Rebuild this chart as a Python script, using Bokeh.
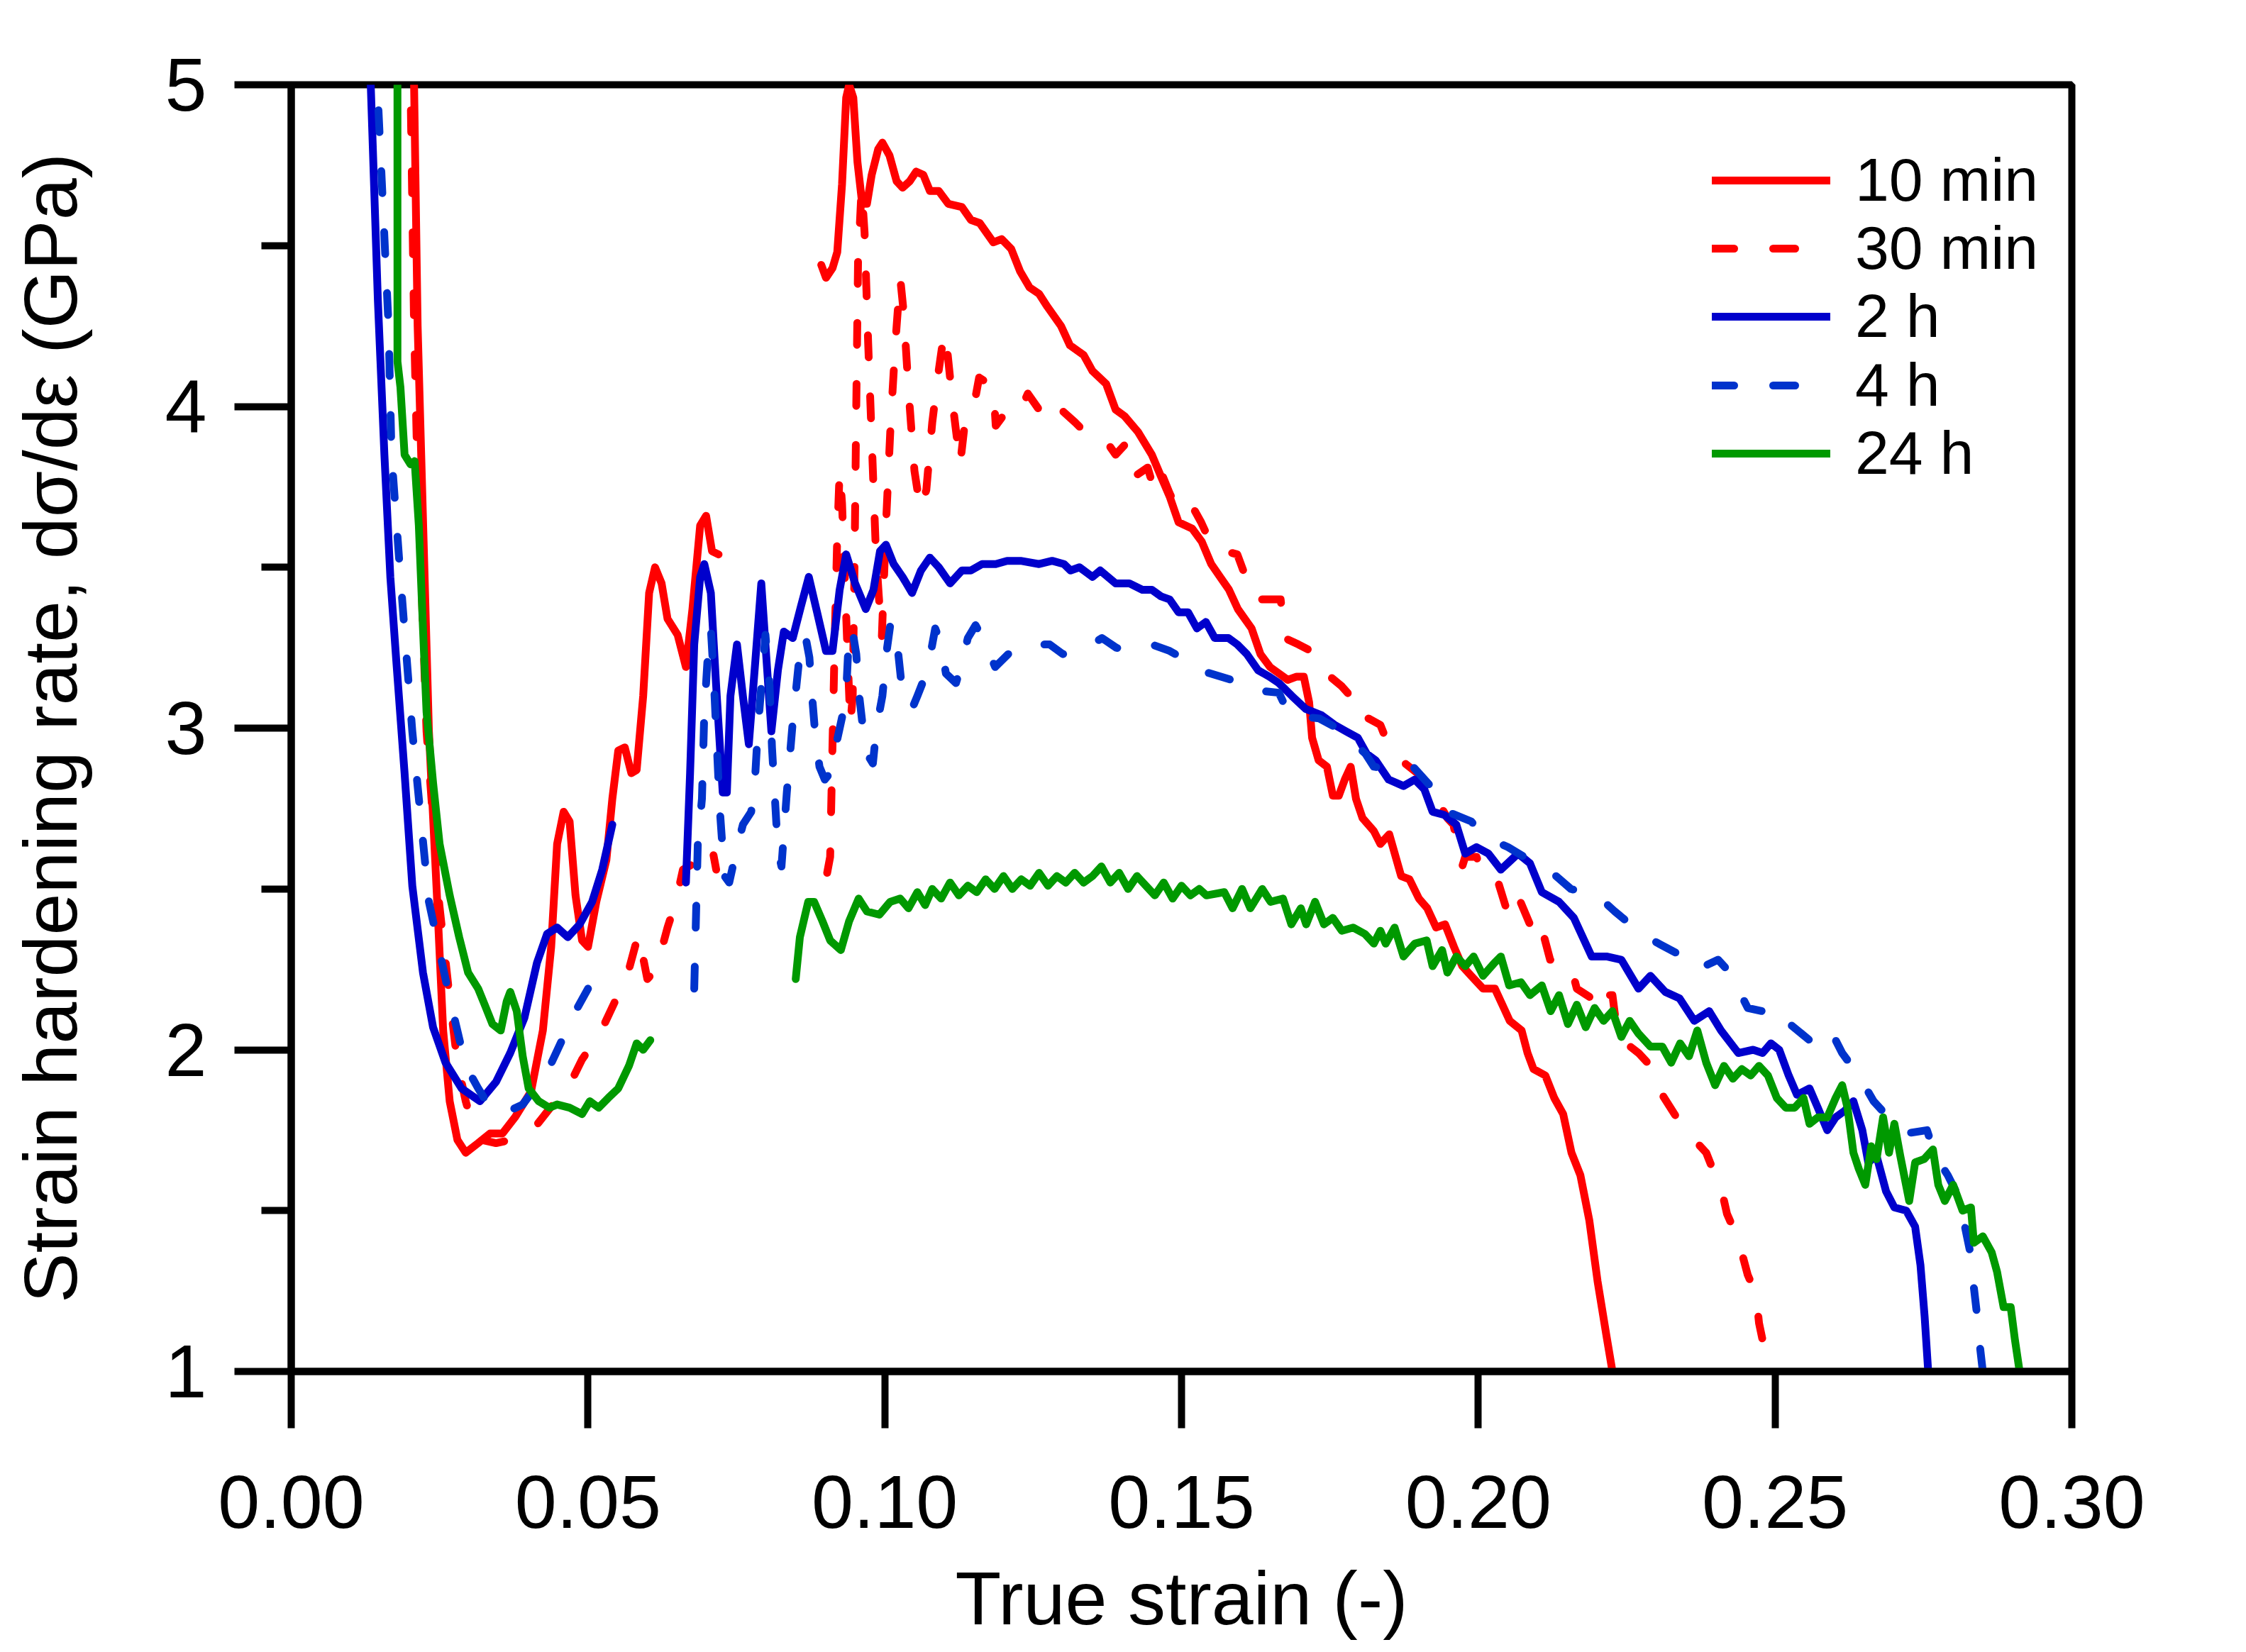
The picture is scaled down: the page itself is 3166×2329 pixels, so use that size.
from bokeh.plotting import figure
from bokeh.models import Range1d, FixedTicker, PrintfTickFormatter, Legend, LegendItem, Label
from bokeh.layouts import column
from bokeh.embed import file_html
from bokeh.resources import INLINE

nan = float("nan")

# ---------------- data (true strain, strain hardening rate GPa) ----------------
min10_x = [0.0205, 0.0207, 0.0213, 0.0219, 0.0232, 0.0246, 0.0256, 0.0267, 0.0280, 0.0294,
           0.0315, 0.0335, 0.0356, 0.0377, 0.0404, 0.0424, 0.0438, 0.0448, 0.0459, 0.0469,
           0.0479, 0.0490, 0.0500, 0.0514, 0.0531, 0.0541, 0.0551, 0.0562, 0.0573, 0.0582,
           0.0593, 0.0603, 0.0613, 0.0624, 0.0634, 0.0651, 0.0665, 0.0676, 0.0689, 0.0699,
           0.0709, 0.0720, nan,
           0.0893, 0.0901, 0.0912, 0.0920, 0.0928, 0.0935, 0.0940, 0.0947, 0.0954, 0.0962,
           0.0970, 0.0978, 0.0989, 0.0996, 0.1008, 0.1020, 0.1030, 0.1042, 0.1053, 0.1065,
           0.1076, 0.1091, 0.1107, 0.1130, 0.1145, 0.1160, 0.1183, 0.1197, 0.1213, 0.1228,
           0.1244, 0.1260, 0.1274, 0.1297, 0.1312, 0.1335, 0.1350, 0.1373, 0.1389, 0.1404,
           0.1427, 0.1450, 0.1466, 0.1480, 0.1495, 0.1518, 0.1534, 0.1550, 0.1565, 0.1580,
           0.1595, 0.1618, 0.1633, 0.1649, 0.1664, 0.1679, 0.1694, 0.1706, 0.1715, 0.1720,
           0.1731, 0.1745, 0.1755, 0.1765, 0.1775, 0.1785, 0.1794, 0.1805, 0.1824, 0.1835,
           0.1850, 0.1870, 0.1884, 0.1900, 0.1914, 0.1929, 0.1944, 0.1959, 0.1973, 0.1988,
           0.2008, 0.2028, 0.2043, 0.2053, 0.2073, 0.2083, 0.2093, 0.2113, 0.2128, 0.2143,
           0.2157, 0.2172, 0.2187, 0.2201, 0.2216, 0.2226, 0.2232]
min10_y = [5.30, 5.00, 4.25, 3.85, 2.99, 2.46, 2.06, 1.84, 1.72, 1.68,
           1.71, 1.74, 1.74, 1.79, 1.87, 2.06, 2.32, 2.64, 2.74, 2.71,
           2.48, 2.34, 2.32, 2.46, 2.59, 2.78, 2.93, 2.94, 2.86, 2.87,
           3.10, 3.42, 3.50, 3.45, 3.34, 3.29, 3.19, 3.37, 3.63, 3.66,
           3.55, 3.54, nan,
           4.44, 4.40, 4.43, 4.48, 4.69, 4.96, 5.00, 4.96, 4.76, 4.63,
           4.63, 4.72, 4.80, 4.82, 4.78, 4.70, 4.68, 4.70, 4.73, 4.72,
           4.67, 4.67, 4.63, 4.62, 4.58, 4.57, 4.51, 4.52, 4.49, 4.42,
           4.37, 4.35, 4.31, 4.25, 4.19, 4.16, 4.11, 4.07, 3.99, 3.97,
           3.92, 3.85, 3.78, 3.72, 3.64, 3.62, 3.58, 3.51, 3.47, 3.43,
           3.37, 3.31, 3.23, 3.19, 3.17, 3.15, 3.16, 3.16, 3.08, 2.97,
           2.90, 2.88, 2.79, 2.79, 2.84, 2.88, 2.78, 2.72, 2.68, 2.64,
           2.67, 2.54, 2.53, 2.47, 2.44, 2.38, 2.39, 2.32, 2.26, 2.23,
           2.19, 2.19, 2.13, 2.09, 2.06, 1.99, 1.94, 1.92, 1.85, 1.80,
           1.68, 1.61, 1.47, 1.28, 1.11, 1.00, 0.90]

min30_x = [0.0199, 0.0201, 0.0207, 0.0212, 0.0228, 0.0249, 0.0267, 0.0280, 0.0294, 0.0305,
           0.0320, 0.0345, 0.0370, 0.0390, 0.0411, 0.0445, 0.0466, 0.0490, 0.0520, 0.0548,
           0.0569, 0.0585, 0.0600, 0.0615, 0.0634, 0.0648, 0.0660, 0.0679, 0.0700, 0.0710,
           0.0716, nan,
           0.0903, 0.0908, 0.0912, 0.0916, 0.0920, 0.0924, 0.0928, 0.0933, 0.0938, 0.0942,
           0.0946, 0.0949, 0.0952, 0.0955, 0.0961, 0.0966, 0.0972, 0.0978, 0.0985, 0.0990,
           0.0995, 0.1002, 0.1010, 0.1018, 0.1026, 0.1032, 0.1040, 0.1050, 0.1060, 0.1070,
           0.1080, 0.1090, 0.1100, 0.1105, 0.1115, 0.1127, 0.1135, 0.1151, 0.1159, 0.1183,
           0.1187, 0.1207, 0.1227, 0.1241, 0.1260, 0.1274, 0.1297, 0.1321, 0.1343, 0.1370,
           0.1389, 0.1404, 0.1419, 0.1443, 0.1457, 0.1469, 0.1480, 0.1495, 0.1518, 0.1533,
           0.1553, 0.1594, 0.1606, 0.1617, 0.1633, 0.1667, 0.1674, 0.1697, 0.1728, 0.1744,
           0.1770, 0.1789, 0.1808, 0.1815, 0.1835, 0.1850, 0.1870, 0.1904, 0.1930, 0.1948,
           0.1958, 0.1973, 0.1978, 0.1997, 0.2008, 0.2022, 0.2032, 0.2047, 0.2062, 0.2087,
           0.2101, 0.2121, 0.2142, 0.2156, 0.2166, 0.2191, 0.2200, 0.2215, 0.2226, 0.2235,
           0.2270, 0.2290, 0.2300, 0.2310, 0.2334, 0.2359, 0.2384, 0.2399, 0.2408, 0.2419,
           0.2438, 0.2454, 0.2468, 0.2473, 0.2481, 0.2486, 0.2490]
min30_y = [5.30, 5.00, 4.25, 3.85, 2.99, 2.46, 2.16, 1.96, 1.84, 1.77,
           1.72, 1.71, 1.72, 1.74, 1.76, 1.84, 1.88, 1.97, 2.05, 2.16,
           2.25, 2.36, 2.22, 2.25, 2.38, 2.46, 2.56, 2.58, 2.57, 2.62,
           2.56, nan,
           2.55, 2.60, 2.95, 3.30, 3.60, 3.80, 3.70, 3.45, 3.20, 3.01,
           3.10, 3.50, 4.00, 4.45, 4.68, 4.54, 4.20, 3.90, 3.55, 3.41,
           3.28, 3.63, 3.95, 4.20, 4.40, 4.29, 4.05, 3.80, 3.68, 3.74,
           3.95, 4.10, 4.23, 4.18, 4.00, 3.82, 3.95, 4.01, 4.09, 4.06,
           3.94, 3.99, 3.98, 4.04, 3.99, 3.95, 3.99, 3.95, 3.91, 3.90,
           3.85, 3.88, 3.78, 3.81, 3.72, 3.78, 3.73, 3.67, 3.69, 3.64,
           3.56, 3.54, 3.48, 3.41, 3.40, 3.40, 3.28, 3.26, 3.23, 3.17,
           3.13, 3.09, 3.09, 3.03, 3.01, 2.94, 2.90, 2.85, 2.78, 2.72,
           2.70, 2.57, 2.60, 2.60, 2.54, 2.53, 2.53, 2.44, 2.50, 2.39,
           2.42, 2.28, 2.28, 2.26, 2.19, 2.16, 2.12, 2.17, 2.17, 2.04,
           1.99, 1.95, 1.89, 1.86, 1.79, 1.73, 1.68, 1.61, 1.58, 1.49,
           1.41, 1.30, 1.24, 1.15, 1.08, 1.00, 0.90]

h2_x = [0.0132, 0.0134, 0.0146, 0.0157, 0.0167, 0.0177, 0.0191, 0.0204, 0.0222, 0.0239,
        0.0260, 0.0287, 0.0318, 0.0345, 0.0369, 0.0393, 0.0414, 0.0431, 0.0448, 0.0466,
        0.0486, 0.0507, 0.0524, 0.0541, nan,
        0.0665, 0.0672, 0.0679, 0.0689, 0.0696, 0.0707, 0.0716, 0.0727, 0.0734, 0.0740,
        0.0751, 0.0761, 0.0771, 0.0782, 0.0792, 0.0799, 0.0809, 0.0820, 0.0830, 0.0845,
        0.0859, 0.0872, 0.0886, 0.0901, 0.0912, 0.0924, 0.0935, 0.0950, 0.0968, 0.0981,
        0.0992, 0.1002, 0.1015, 0.1030, 0.1046, 0.1061, 0.1076, 0.1091, 0.1110, 0.1130,
        0.1145, 0.1164, 0.1187, 0.1206, 0.1229, 0.1260, 0.1282, 0.1302, 0.1313, 0.1328,
        0.1350, 0.1363, 0.1389, 0.1412, 0.1434, 0.1450, 0.1465, 0.1480, 0.1495, 0.1511,
        0.1526, 0.1541, 0.1556, 0.1579, 0.1594, 0.1610, 0.1629, 0.1648, 0.1664, 0.1686,
        0.1709, 0.1736, 0.1758, 0.1777, 0.1797, 0.1812, 0.1827, 0.1849, 0.1874, 0.1893,
        0.1909, 0.1923, 0.1943, 0.1963, 0.1978, 0.1997, 0.2017, 0.2038, 0.2067, 0.2087,
        0.2107, 0.2136, 0.2161, 0.2191, 0.2216, 0.2241, 0.2270, 0.2290, 0.2315, 0.2339,
        0.2364, 0.2389, 0.2409, 0.2438, 0.2463, 0.2479, 0.2493, 0.2507, 0.2523, 0.2537,
        0.2558, 0.2572, 0.2588, 0.2602, 0.2617, 0.2632, 0.2647, 0.2657, 0.2671, 0.2687,
        0.2701, 0.2721, 0.2736, 0.2745, 0.2752, 0.2758, 0.2762]
h2_y = [5.30, 5.00, 4.33, 3.85, 3.47, 3.21, 2.86, 2.51, 2.24, 2.07,
        1.96, 1.88, 1.84, 1.90, 1.99, 2.10, 2.27, 2.36, 2.38, 2.35,
        2.39, 2.46, 2.56, 2.70, nan,
        2.52, 2.86, 3.26, 3.47, 3.51, 3.42, 3.13, 2.80, 2.80, 3.10,
        3.26, 3.10, 2.95, 3.21, 3.45, 3.26, 2.99, 3.18, 3.30, 3.28,
        3.38, 3.47, 3.36, 3.24, 3.24, 3.43, 3.54, 3.45, 3.37, 3.43,
        3.55, 3.57, 3.51, 3.47, 3.42, 3.49, 3.53, 3.50, 3.45, 3.49,
        3.49, 3.51, 3.51, 3.52, 3.52, 3.51, 3.52, 3.51, 3.49, 3.50,
        3.47, 3.49, 3.45, 3.45, 3.43, 3.43, 3.41, 3.40, 3.36, 3.36,
        3.31, 3.33, 3.28, 3.28, 3.26, 3.23, 3.18, 3.16, 3.14, 3.10,
        3.06, 3.04, 3.01, 2.99, 2.97, 2.92, 2.90, 2.84, 2.82, 2.84,
        2.81, 2.74, 2.73, 2.70, 2.61, 2.63, 2.61, 2.56, 2.61, 2.58,
        2.49, 2.46, 2.41, 2.29, 2.29, 2.28, 2.19, 2.23, 2.18, 2.16,
        2.09, 2.12, 2.06, 1.99, 2.00, 1.99, 2.02, 2.00, 1.92, 1.86,
        1.88, 1.82, 1.75, 1.79, 1.81, 1.84, 1.75, 1.65, 1.67, 1.56,
        1.51, 1.50, 1.45, 1.33, 1.17, 1.00, 0.90]

h4_x = [0.0143, 0.0145, 0.0164, 0.0169, 0.0184, 0.0204, 0.0232, 0.0267, 0.0294, 0.0315,
        0.0335, 0.0356, 0.0390, 0.0431, 0.0479, 0.0500, nan,
        0.0679, 0.0685, 0.0692, 0.0696, 0.0703, 0.0707, 0.0712, 0.0716, 0.0722, 0.0730,
        0.0738, 0.0750, 0.0761, 0.0775, 0.0782, 0.0786, 0.0792, 0.0799, 0.0806, 0.0810,
        0.0815, 0.0820, 0.0826, 0.0835, 0.0845, 0.0855, 0.0866, 0.0873, 0.0878, 0.0882,
        0.0890, 0.0899, 0.0908, 0.0917, 0.0930, 0.0936, 0.0940, 0.0945, 0.0952, 0.0957,
        0.0962, 0.0970, 0.0980, 0.0986, 0.0996, 0.1004, 0.1010, 0.1020, 0.1028, 0.1036,
        0.1046, 0.1055, 0.1072, 0.1085, 0.1095, 0.1103, 0.1120, 0.1128, 0.1140, 0.1153,
        0.1165, 0.1186, 0.1219, 0.1251, 0.1278, 0.1300, 0.1331, 0.1366, 0.1390, 0.1411,
        0.1450, 0.1480, 0.1499, 0.1530, 0.1584, 0.1613, 0.1664, 0.1682, 0.1732, 0.1762,
        0.1810, 0.1824, 0.1860, 0.1890, 0.1934, 0.1948, 0.1988, 0.2013, 0.2050, 0.2077,
        0.2131, 0.2156, 0.2200, 0.2230, 0.2276, 0.2304, 0.2345, 0.2369, 0.2404, 0.2424,
        0.2454, 0.2479, 0.2503, 0.2518, 0.2558, 0.2572, 0.2602, 0.2613, 0.2641, 0.2666,
        0.2696, 0.2721, 0.2756, 0.2770, 0.2791, 0.2810, 0.2821, 0.2830, 0.2835, 0.2840,
        0.2845, 0.2850, 0.2853]
h4_y = [5.30, 5.00, 4.25, 3.85, 3.47, 2.99, 2.46, 2.16, 1.95, 1.88,
        1.82, 1.80, 1.83, 1.93, 2.12, 2.19, nan,
        2.19, 2.64, 2.78, 3.05, 3.26, 3.31, 3.15, 2.99, 2.75, 2.54,
        2.52, 2.62, 2.70, 2.74, 2.86, 2.99, 3.13, 3.29, 3.13, 2.94,
        2.78, 2.62, 2.57, 2.80, 3.02, 3.20, 3.29, 3.22, 3.09, 3.00,
        2.88, 2.84, 2.86, 2.94, 3.05, 3.15, 3.30, 3.31, 3.23, 3.10,
        3.02, 2.92, 2.89, 3.00, 3.10, 3.25, 3.33, 3.28, 3.14, 3.09,
        3.06, 3.10, 3.18, 3.31, 3.26, 3.17, 3.14, 3.19, 3.28, 3.32,
        3.28, 3.19, 3.25, 3.26, 3.26, 3.23, 3.24, 3.28, 3.25, 3.24,
        3.26, 3.24, 3.22, 3.18, 3.15, 3.12, 3.11, 3.04, 3.03, 3.00,
        2.92, 2.88, 2.87, 2.88, 2.79, 2.74, 2.71, 2.66, 2.63, 2.60,
        2.54, 2.50, 2.48, 2.43, 2.36, 2.33, 2.29, 2.25, 2.28, 2.24,
        2.13, 2.12, 2.13, 2.09, 2.03, 1.99, 2.03, 1.99, 1.92, 1.84,
        1.78, 1.74, 1.75, 1.67, 1.61, 1.54, 1.44, 1.36, 1.26, 1.18,
        1.08, 1.00, 0.90]

h24_x = [0.0179, 0.0179, 0.0184, 0.0191, 0.0201, 0.0208, 0.0215, 0.0222, 0.0228, 0.0239,
         0.0250, 0.0267, 0.0283, 0.0298, 0.0315, 0.0326, 0.0339, 0.0353, 0.0363, 0.0369,
         0.0380, 0.0390, 0.0400, 0.0417, 0.0435, 0.0448, 0.0469, 0.0490, 0.0503, 0.0518,
         0.0534, 0.0551, 0.0569, 0.0582, 0.0593, 0.0605, nan,
         0.0850, 0.0857, 0.0871, 0.0881, 0.0895, 0.0908, 0.0926, 0.0940, 0.0956, 0.0970,
         0.0991, 0.1009, 0.1026, 0.1040, 0.1055, 0.1068, 0.1080, 0.1095, 0.1110, 0.1125,
         0.1140, 0.1155, 0.1170, 0.1185, 0.1200, 0.1215, 0.1230, 0.1245, 0.1260, 0.1275,
         0.1290, 0.1305, 0.1320, 0.1335, 0.1350, 0.1365, 0.1380, 0.1395, 0.1410, 0.1425,
         0.1440, 0.1455, 0.1470, 0.1485, 0.1500, 0.1515, 0.1530, 0.1542, 0.1572, 0.1586,
         0.1602, 0.1616, 0.1636, 0.1650, 0.1671, 0.1685, 0.1701, 0.1710, 0.1725, 0.1740,
         0.1755, 0.1770, 0.1789, 0.1809, 0.1824, 0.1835, 0.1844, 0.1859, 0.1874, 0.1893,
         0.1913, 0.1923, 0.1939, 0.1948, 0.1963, 0.1978, 0.1992, 0.2008, 0.2027, 0.2038,
         0.2052, 0.2072, 0.2087, 0.2107, 0.2122, 0.2136, 0.2151, 0.2166, 0.2181, 0.2196,
         0.2211, 0.2226, 0.2241, 0.2255, 0.2270, 0.2290, 0.2310, 0.2325, 0.2340, 0.2355,
         0.2369, 0.2384, 0.2399, 0.2414, 0.2429, 0.2444, 0.2459, 0.2473, 0.2488, 0.2503,
         0.2518, 0.2533, 0.2548, 0.2558, 0.2572, 0.2588, 0.2602, 0.2613, 0.2622, 0.2632,
         0.2641, 0.2652, 0.2662, 0.2671, 0.2682, 0.2692, 0.2701, 0.2711, 0.2726, 0.2736,
         0.2751, 0.2766, 0.2775, 0.2786, 0.2800, 0.2816, 0.2830, 0.2835, 0.2850, 0.2865,
         0.2874, 0.2885, 0.2897, 0.2904, 0.2912, 0.2915]
h24_y = [5.30, 4.14, 4.06, 3.85, 3.82, 3.83, 3.63, 3.31, 3.05, 2.83,
         2.64, 2.48, 2.35, 2.24, 2.19, 2.14, 2.08, 2.06, 2.15, 2.18,
         2.12, 1.98, 1.88, 1.84, 1.82, 1.83, 1.82, 1.80, 1.84, 1.82,
         1.85, 1.88, 1.95, 2.02, 2.00, 2.03, nan,
         2.22, 2.35, 2.46, 2.46, 2.40, 2.34, 2.31, 2.40, 2.47, 2.43,
         2.42, 2.46, 2.47, 2.44, 2.49, 2.45, 2.50, 2.47, 2.52, 2.48,
         2.51, 2.49, 2.53, 2.50, 2.54, 2.50, 2.53, 2.51, 2.55, 2.51,
         2.54, 2.52, 2.55, 2.52, 2.54, 2.57, 2.52, 2.55, 2.50, 2.54,
         2.51, 2.48, 2.52, 2.47, 2.51, 2.48, 2.50, 2.48, 2.49, 2.44,
         2.50, 2.44, 2.50, 2.46, 2.47, 2.39, 2.44, 2.39, 2.46, 2.39,
         2.41, 2.37, 2.38, 2.36, 2.33, 2.37, 2.33, 2.38, 2.29, 2.33,
         2.34, 2.26, 2.31, 2.24, 2.29, 2.26, 2.29, 2.23, 2.27, 2.29,
         2.20, 2.21, 2.17, 2.20, 2.12, 2.17, 2.08, 2.14, 2.07, 2.13,
         2.09, 2.12, 2.04, 2.09, 2.05, 2.01, 2.01, 1.96, 2.02, 1.98,
         2.06, 1.96, 1.89, 1.95, 1.91, 1.94, 1.92, 1.95, 1.92, 1.85,
         1.82, 1.82, 1.85, 1.77, 1.79, 1.79, 1.85, 1.89, 1.82, 1.68,
         1.63, 1.58, 1.70, 1.66, 1.79, 1.68, 1.77, 1.67, 1.53, 1.65,
         1.66, 1.69, 1.58, 1.53, 1.58, 1.50, 1.51, 1.40, 1.42, 1.37,
         1.31, 1.20, 1.20, 1.10, 1.00, 0.90]

series_labels = ["10 min", "30 min", "2 h", "4 h", "24 h"]
x_ticks = [0.00, 0.05, 0.10, 0.15, 0.20, 0.25, 0.30]
y_ticks = [1, 2, 3, 4, 5]
y_minor = [1.5, 2.5, 3.5, 4.5]
x_title = "True strain (-)"
y_title = "Strain hardening rate, dσ/dε (GPa)"

# ---------------- layout sizes ----------------
W = 3150
TOP, LEFT, RIGHT, FRAME_H = 119, 410, 230, 1814
BOTTOM = 262
MAIN_H = TOP + FRAME_H + BOTTOM
TITLE_H = 2312 - MAIN_H

FONT = "Liberation Sans"
p = figure(width=W, height=MAIN_H, x_range=Range1d(0, 0.30), y_range=Range1d(1, 5),
           output_backend="svg", toolbar_location=None,
           min_border_left=LEFT, min_border_right=RIGHT, min_border_top=TOP, min_border_bottom=BOTTOM)
p.background_fill_color = "white"
p.border_fill_color = "white"
p.xgrid.visible = False
p.ygrid.visible = False
p.outline_line_color = "black"
p.outline_line_width = 10

LW = 11
DASH = "31 55"
r1 = p.line(min10_x, min10_y, line_color="#ff0000", line_width=LW, line_join="round", line_cap="round")
r2 = p.line(min30_x, min30_y, line_color="#ff0000", line_width=LW, line_dash=DASH, line_join="round", line_cap="round")
r3 = p.line(h2_x, h2_y, line_color="#0000cc", line_width=LW, line_join="round", line_cap="round")
r4 = p.line(h4_x, h4_y, line_color="#0033cc", line_width=LW, line_dash=DASH, line_join="round", line_cap="round")
r5 = p.line(h24_x, h24_y, line_color="#009900", line_width=LW, line_join="round", line_cap="round")

for ax in (p.xaxis[0], p.yaxis[0]):
    ax.axis_line_width = 10
    ax.axis_line_color = "black"
    ax.major_tick_line_width = 10
    ax.minor_tick_line_width = 10
    ax.major_tick_in = 0
    ax.major_tick_out = 80
    ax.minor_tick_in = 0
    ax.major_label_text_font = FONT
    ax.major_label_text_font_size = "106px"
    ax.major_label_text_color = "black"
    ax.axis_label_text_font = FONT
    ax.axis_label_text_font_size = "106px"
    ax.axis_label_text_font_style = "normal"
    ax.axis_label_text_color = "black"

p.xaxis.ticker = FixedTicker(ticks=x_ticks)
p.xaxis.formatter = PrintfTickFormatter(format="%.2f")
p.xaxis.minor_tick_line_color = None
p.xaxis.major_label_standoff = 67

p.yaxis.ticker = FixedTicker(ticks=y_ticks, minor_ticks=y_minor)
p.yaxis.minor_tick_out = 42
p.yaxis.major_label_standoff = 39
p.yaxis.axis_label = y_title
p.yaxis.axis_label_standoff = 100

# one legend per entry so the rows sit exactly where the reference has them
renderers = [r1, r2, r3, r4, r5]
for i, (lab, rend) in enumerate(zip(series_labels, renderers)):
    lg = Legend(items=[LegendItem(label=lab, renderers=[rend])],
                location=(2003, int(round(1630 - 96.25 * i))))
    lg.padding = 0
    lg.margin = 0
    lg.spacing = 0
    lg.glyph_width = 167
    lg.glyph_height = 96
    lg.label_height = 96
    lg.label_standoff = 35
    lg.label_text_font = FONT
    lg.label_text_font_size = "86px"
    lg.label_text_color = "black"
    lg.border_line_alpha = 0
    lg.background_fill_alpha = 0
    p.add_layout(lg)

# strip under the plot carrying the x-axis title
t = figure(width=W, height=TITLE_H, x_range=Range1d(0, 0.30), y_range=Range1d(0, TITLE_H),
           output_backend="svg", toolbar_location=None, x_axis_type=None, y_axis_type=None,
           min_border_left=LEFT, min_border_right=RIGHT, min_border_top=0, min_border_bottom=0)
t.outline_line_color = None
t.xgrid.visible = False
t.ygrid.visible = False
t.background_fill_color = "white"
t.border_fill_color = "white"
centre_from_top = 2252 - MAIN_H
t.add_layout(Label(x=0.15, y=TITLE_H - centre_from_top, x_units="data", y_units="data", text=x_title,
                   text_align="center", text_baseline="middle",
                   text_font=FONT, text_font_size="106px", text_color="black"))

layout = column(p, t, spacing=0)
open("out.html", "w").write(file_html(layout, INLINE))
